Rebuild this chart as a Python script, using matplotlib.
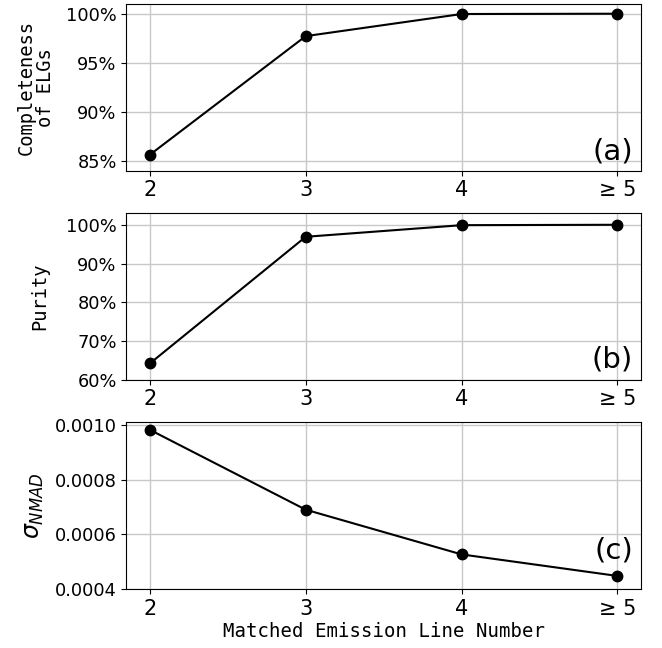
import matplotlib
matplotlib.use("Agg")
import matplotlib.pyplot as plt
from matplotlib.ticker import MultipleLocator, PercentFormatter, FormatStrFormatter

# data
line_numbers = ["2", "3", "4", "≥ 5"]
completeness = [85.65, 97.72, 99.97, 100.0]   # percent
purity = [64.2, 96.9, 99.9, 100.0]            # percent
sigma_nmad = [0.000984, 0.000691, 0.000527, 0.000448]

mono = "DejaVu Sans Mono"
fig = plt.figure(figsize=(6.62, 6.48), dpi=100)
axes = fig.subplots(3, 1)
fig.subplots_adjust(left=0.191, right=0.968, top=0.994, bottom=0.091, hspace=0.256)

panels = [
    (completeness, "Completeness\nof ELGs", "(a)", (84.05, 101.0), 5, 0.03, 8),
    (purity, "Purity", "(b)", (60.0, 103.0), 10, 0.04, 12),
    (sigma_nmad, r"$\sigma_{NMAD}$", "(c)", (0.0004, 0.001011), 0.0002, 0.15, 6),
]
x = range(len(line_numbers))
for ax, (vals, ylab, tag, ylim, step, ty, pad) in zip(axes, panels):
    ax.plot(x, vals, "-o", color="black", lw=1.5, ms=7.5)
    ax.set_xticks(list(x)); ax.set_xticklabels(line_numbers, fontsize=15)
    ax.set_ylim(*ylim); ax.yaxis.set_major_locator(MultipleLocator(step))
    ax.tick_params(axis="y", labelsize=12.8)
    ax.grid(True, color="#c8c8c8", lw=1)
    if tag == "(c)":
        ax.yaxis.set_major_formatter(FormatStrFormatter("%.4f"))
        ax.set_ylabel(ylab, fontsize=17, labelpad=pad)
    else:
        ax.yaxis.set_major_formatter(PercentFormatter(decimals=0))
        ax.set_ylabel(ylab, fontsize=13.5, family=mono, linespacing=1.0, labelpad=pad)
    ax.text(0.985, ty, tag, transform=ax.transAxes, ha="right", va="bottom", fontsize=21)
axes[-1].set_xlabel("Matched Emission Line Number", fontsize=13.7, family=mono, labelpad=2)

fig.savefig("out.png", dpi=100)
plt.close(fig)
